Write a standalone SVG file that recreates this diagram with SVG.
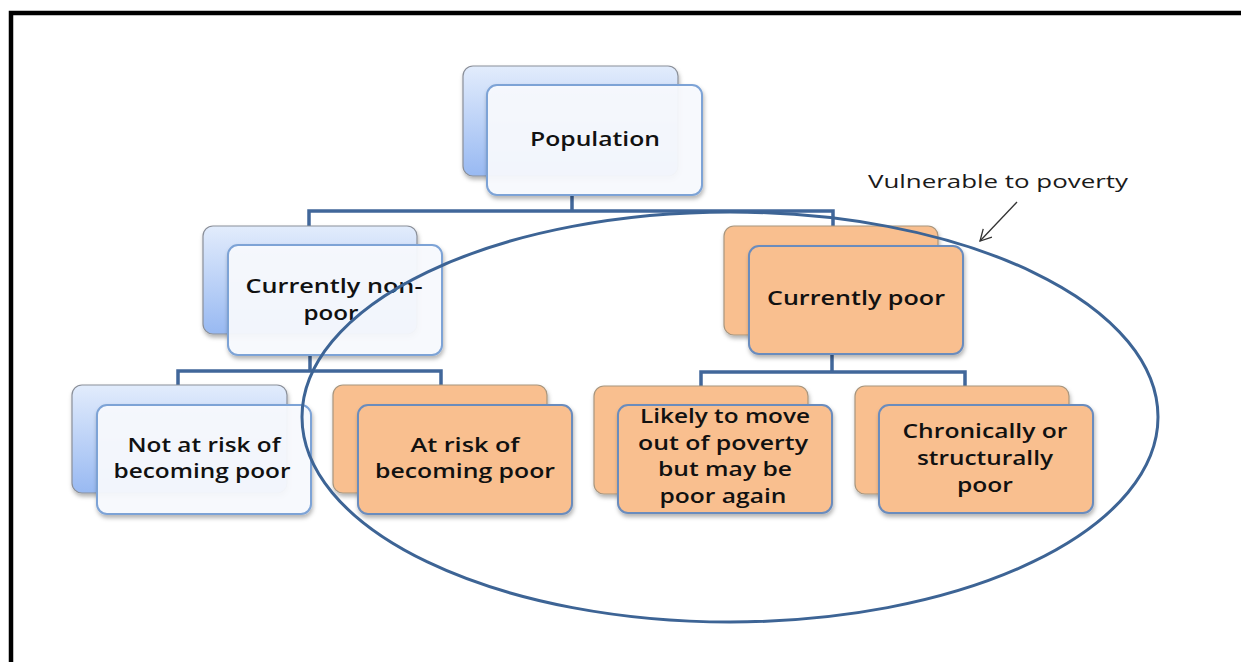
<svg xmlns="http://www.w3.org/2000/svg" width="1241" height="662" viewBox="0 0 1241 662">
<defs>
<linearGradient id="blueG" x1="0" y1="0" x2="0" y2="1">
<stop offset="0" stop-color="#e2ecfc"/>
<stop offset="1" stop-color="#98b9f2"/>
</linearGradient>
<filter id="sh" x="-10%" y="-10%" width="125%" height="130%">
<feDropShadow dx="1" dy="3" stdDeviation="2" flood-color="#000" flood-opacity="0.3"/>
</filter>
<marker id="arr" markerWidth="14" markerHeight="14" refX="12" refY="7" orient="auto" markerUnits="userSpaceOnUse">
<path d="M1,1 L12,7 L1,13" fill="none" stroke="#333" stroke-width="1.3"/>
</marker>
</defs>
<style>
.bb{fill:url(#blueG);stroke:#8a8f99;stroke-width:1.2;filter:url(#sh)}
.bf{fill:#f9fbff;fill-opacity:0.93;stroke:#7da3d6;stroke-width:2;filter:url(#sh)}
.ob{fill:#f9bf8f;stroke:#a8967e;stroke-width:1.2;filter:url(#sh)}
.of{fill:#f9bf8f;stroke:#6b8cbd;stroke-width:2;filter:url(#sh)}
.t{font-family:"Open Sans","Liberation Sans",sans-serif;font-weight:600;font-size:20px;fill:#111;text-anchor:middle}
.conn{fill:none;stroke:#41679a;stroke-width:3.5}
.lbl{font-family:"Open Sans","Liberation Sans",sans-serif;font-size:19px;fill:#1a1a1a}
</style>
<rect x="0" y="0" width="1241" height="662" fill="#fff"/>
<path d="M11,662 V13 H1241" fill="none" stroke="#000" stroke-width="4.5"/>

<g id="connectors">
<path class="conn" d="M572,195 V211 M309,228 V211 H833 V228"/>
<path class="conn" d="M310,355 V371 M178,386 V371 H441 V386"/>
<path class="conn" d="M832,354 V372 M701,387 V372 H965 V387"/>
</g>

<g id="population">
<rect class="bb" x="463" y="66" width="215" height="110" rx="10"/>
<rect class="bf" x="487" y="85" width="215" height="110" rx="10"/>
<text class="t" x="595" y="146" textLength="130" lengthAdjust="spacingAndGlyphs">Population</text>
</g>

<g id="nonpoor">
<rect class="bb" x="203" y="226" width="214" height="108" rx="10"/>
<rect class="bf" x="228" y="245" width="214" height="110" rx="10"/>
<text class="t" x="334" y="293" textLength="177" lengthAdjust="spacingAndGlyphs">Currently non-</text>
<text class="t" x="331" y="320" textLength="55" lengthAdjust="spacingAndGlyphs">poor</text>
</g>

<g id="notatrisk">
<rect class="bb" x="72" y="385" width="215" height="108" rx="10"/>
<rect class="bf" x="97" y="405" width="214" height="109" rx="10"/>
<text class="t" x="204" y="452" textLength="153" lengthAdjust="spacingAndGlyphs">Not at risk of</text>
<text class="t" x="202" y="478" textLength="177" lengthAdjust="spacingAndGlyphs">becoming poor</text>
</g>

<g id="atrisk">
<rect class="ob" x="333" y="385" width="214" height="108" rx="10"/>
<rect class="of" x="358" y="405" width="214" height="109" rx="10"/>
<text class="t" x="465" y="452" textLength="109" lengthAdjust="spacingAndGlyphs">At risk of</text>
<text class="t" x="465" y="478" textLength="180" lengthAdjust="spacingAndGlyphs">becoming poor</text>
</g>

<g id="poor">
<rect class="ob" x="724" y="226" width="214" height="109" rx="10"/>
<rect class="of" x="749" y="246" width="214" height="108" rx="10"/>
<text class="t" x="856" y="305" textLength="178" lengthAdjust="spacingAndGlyphs">Currently poor</text>
</g>

<g id="likely">
<rect class="ob" x="594" y="386" width="214" height="108" rx="10"/>
<rect class="of" x="618" y="405" width="214" height="108" rx="10"/>
<text class="t" x="725" y="423" textLength="170" lengthAdjust="spacingAndGlyphs">Likely to move</text>
<text class="t" x="723" y="450" textLength="170" lengthAdjust="spacingAndGlyphs">out of poverty</text>
<text class="t" x="725" y="476" textLength="134" lengthAdjust="spacingAndGlyphs">but may be</text>
<text class="t" x="723" y="503" textLength="127" lengthAdjust="spacingAndGlyphs">poor again</text>
</g>

<g id="chronic">
<rect class="ob" x="855" y="386" width="214" height="108" rx="10"/>
<rect class="of" x="879" y="405" width="214" height="108" rx="10"/>
<text class="t" x="985" y="438" textLength="165" lengthAdjust="spacingAndGlyphs">Chronically or</text>
<text class="t" x="985" y="465" textLength="136" lengthAdjust="spacingAndGlyphs">structurally</text>
<text class="t" x="985" y="492" textLength="56" lengthAdjust="spacingAndGlyphs">poor</text>
</g>

<g id="vulnerable">
<ellipse cx="730" cy="417" rx="428" ry="205" fill="none" stroke="#3d6495" stroke-width="3"/>
<text class="lbl" x="868" y="188" textLength="260" lengthAdjust="spacingAndGlyphs">Vulnerable to poverty</text>
<line x1="1017" y1="202" x2="980" y2="241" stroke="#333" stroke-width="1.3" marker-end="url(#arr)"/>
</g>
</svg>
